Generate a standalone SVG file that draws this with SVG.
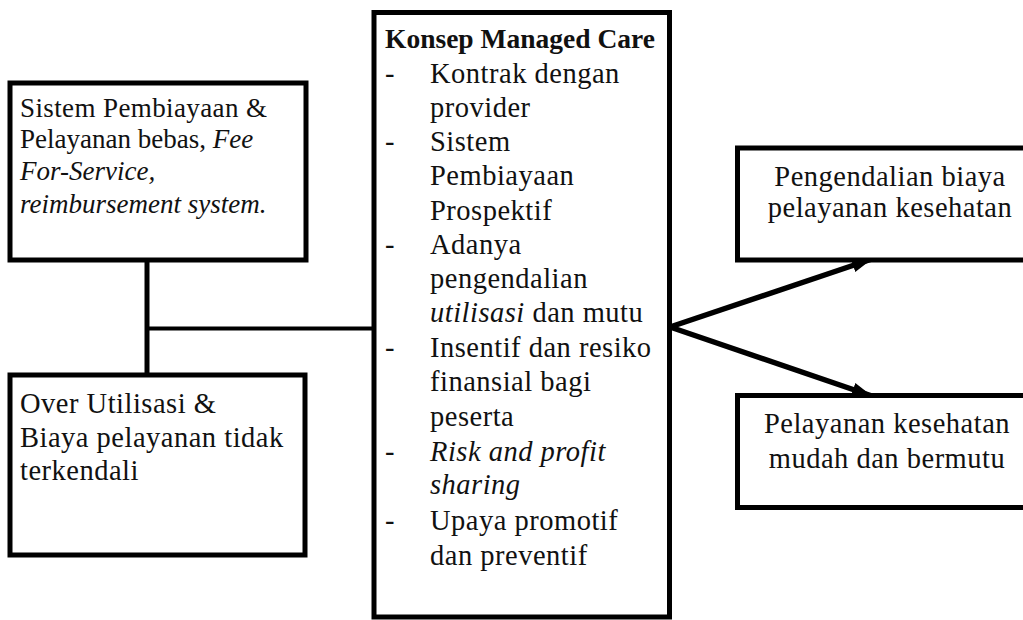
<svg xmlns="http://www.w3.org/2000/svg" width="1023" height="620" viewBox="0 0 1023 620">
<style>
.box{fill:#fff;stroke:#000;stroke-width:5}
.t{font-family:"Liberation Serif","Times New Roman",serif;font-size:28.5px;letter-spacing:0.5px;fill:#111}
.s{font-size:27px;letter-spacing:0}
.b{font-weight:bold;font-size:27.5px;letter-spacing:0}
.i{font-style:italic}
.c{text-anchor:middle}
.con{stroke:#000;fill:none}
</style>
<defs>
<marker id="ah" markerUnits="userSpaceOnUse" markerWidth="22" markerHeight="16" refX="20" refY="8" orient="auto">
<path d="M0,1 L20,8 L0,15 Z" fill="#000"/>
</marker>
</defs>
<rect width="1023" height="620" fill="#fff"/>
<g id="connectors">
<line class="con" x1="147" y1="260" x2="147" y2="375" stroke-width="5"/>
<line class="con" x1="147" y1="328.5" x2="374" y2="328.5" stroke-width="4"/>
<line class="con" x1="670" y1="327" x2="872" y2="259" stroke-width="5.5" marker-end="url(#ah)"/>
<line class="con" x1="670" y1="327" x2="872" y2="396" stroke-width="5.5" marker-end="url(#ah)"/>
</g>
<g id="node-sistem">
<rect class="box" x="10" y="83" width="296" height="177"/>
<text class="t s" x="20" y="117" textLength="247">Sistem Pembiayaan &amp;</text>
<text class="t s" x="20" y="148">Pelayanan bebas, <tspan class="i">Fee</tspan></text>
<text class="t s i" x="20" y="180">For-Service,</text>
<text class="t s i" x="20" y="213">reimbursement system.</text>
</g>
<g id="node-over">
<rect class="box" x="10" y="375" width="295" height="180"/>
<text class="t" x="20" y="413">Over Utilisasi &amp;</text>
<text class="t" x="20" y="447">Biaya pelayanan tidak</text>
<text class="t" x="20" y="480">terkendali</text>
</g>
<g id="node-konsep">
<rect class="box" x="374" y="12.5" width="295.5" height="604.5"/>
<text class="t b" x="385" y="48">Konsep Managed Care</text>
<text class="t" x="385" y="83">-</text>
<text class="t" x="430" y="83">Kontrak dengan</text>
<text class="t" x="430" y="117">provider</text>
<text class="t" x="385" y="151">-</text>
<text class="t" x="430" y="151">Sistem</text>
<text class="t" x="430" y="185">Pembiayaan</text>
<text class="t" x="430" y="220">Prospektif</text>
<text class="t" x="385" y="254">-</text>
<text class="t" x="430" y="254">Adanya</text>
<text class="t" x="430" y="288">pengendalian</text>
<text class="t" x="430" y="322"><tspan class="i">utilisasi</tspan> dan mutu</text>
<text class="t" x="385" y="357">-</text>
<text class="t" x="430" y="357">Insentif dan resiko</text>
<text class="t" x="430" y="391">finansial bagi</text>
<text class="t" x="430" y="426">peserta</text>
<text class="t" x="385" y="461">-</text>
<text class="t i" x="430" y="461">Risk and profit</text>
<text class="t i" x="430" y="494">sharing</text>
<text class="t" x="385" y="530">-</text>
<text class="t" x="430" y="530">Upaya promotif</text>
<text class="t" x="430" y="565">dan preventif</text>
</g>
<g id="node-pengendalian">
<rect class="box" x="737.5" y="148" width="310" height="112"/>
<text class="t c" x="890" y="186">Pengendalian biaya</text>
<text class="t c" x="890" y="217">pelayanan kesehatan</text>
</g>
<g id="node-pelayanan">
<rect class="box" x="737.5" y="395.5" width="310" height="112"/>
<text class="t c" x="887" y="433">Pelayanan kesehatan</text>
<text class="t c" x="887" y="468">mudah dan bermutu</text>
</g>
</svg>
